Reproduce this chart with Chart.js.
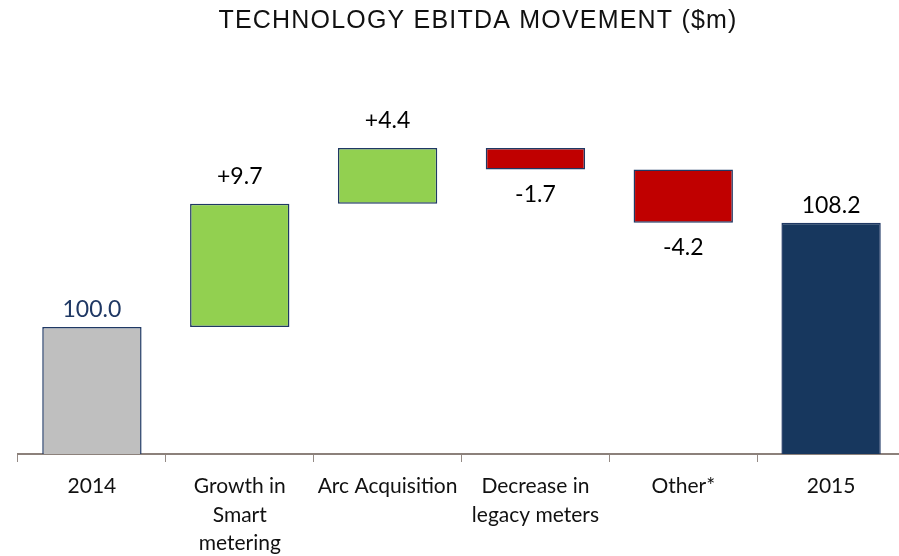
<!DOCTYPE html>
<html><head><meta charset="utf-8">
<script src="https://cdn.jsdelivr.net/npm/chart.js@4/dist/chart.umd.min.js"></script>
<style>html,body{margin:0;padding:0;overflow:hidden;background:#fff}#wrap{width:906px;height:556px}</style>
</head><body><div id="wrap"><canvas id="c" width="906" height="556"></canvas></div>
<script>
// ---- data ----
const categories = ["2014", ["Growth in", "Smart", "metering"], "Arc Acquisition", ["Decrease in", "legacy meters"], "Other*", "2015"];
const startValue = 100.0;
const movements = [9.7, 4.4, -1.7, -4.2];
const endValue = 108.2;
const yAxisRange = [90, 120];
const chartTitle = "TECHNOLOGY EBITDA MOVEMENT ($m)";

// ---- build floating bars ----
const floating = [[0, startValue]];
const kinds = ["start"];
let running = startValue;
movements.forEach(m => {
  floating.push([running, running + m]);
  kinds.push(m >= 0 ? "up" : "down");
  running += m;
});
floating.push([0, endValue]);
kinds.push("end");

const valueLabels = [startValue.toFixed(1)]
  .concat(movements.map(m => (m >= 0 ? "+" : "") + m.toFixed(1)))
  .concat([endValue.toFixed(1)]);

const fillColors = { start: "#BFBFBF", up: "#92D050", down: "#C00000", end: "#17375E" };
const labelColors = { start: "#1F3864", up: "#000000", down: "#000000", end: "#000000" };

const titlePlugin = {
  id: "titlePlugin",
  afterDraw(chart) {
    const ctx = chart.ctx;
    ctx.save();
    ctx.font = '25px "Liberation Sans", Arial, sans-serif';
    if ('letterSpacing' in ctx) ctx.letterSpacing = '1.2px';
    ctx.fillStyle = '#111111';
    ctx.textAlign = 'center';
    ctx.textBaseline = 'alphabetic';
    ctx.fillText(chartTitle, 478, 28);
    ctx.restore();
  }
};

const valueLabelPlugin = {
  id: "valueLabelPlugin",
  afterDatasetsDraw(chart) {
    const ctx = chart.ctx;
    const meta = chart.getDatasetMeta(0);
    ctx.save();
    ctx.font = '23px Lato, "Open Sans", sans-serif';
    ctx.textAlign = 'center';
    ctx.textBaseline = 'middle';
    meta.data.forEach((bar, i) => {
      const top = Math.min(bar.y, bar.base);
      const bottom = Math.max(bar.y, bar.base);
      const k = kinds[i];
      let y;
      if (k === "down") y = bottom + 25;
      else if (k === "up") y = top - 27;
      else y = top - 17;
      ctx.fillStyle = labelColors[k];
      ctx.fillText(valueLabels[i], bar.x, y);
    });
    ctx.restore();
  }
};

new Chart(document.getElementById('c'), {
  type: 'bar',
  data: {
    labels: categories,
    datasets: [{
      data: floating,
      backgroundColor: kinds.map(k => fillColors[k]),
      borderColor: '#1F3864',
      borderWidth: 1.5,
      borderSkipped: false,
      categoryPercentage: 1,
      barPercentage: 0.672,
      clip: 0
    }]
  },
  options: {
    responsive: false,
    animation: false,
    layout: { padding: { top: 73, left: 18, right: 1, bottom: 0 } },
    plugins: { legend: { display: false }, title: { display: false }, tooltip: { enabled: false } },
    scales: {
      y: { display: false, min: yAxisRange[0], max: yAxisRange[1] },
      x: {
        afterFit(scale) { scale.height = 102; },
        grid: { display: true, drawOnChartArea: false, drawTicks: true, tickLength: 8, color: '#948A85', lineWidth: 1, offset: true },
        border: { display: true, color: '#8C817B', width: 2 },
        ticks: {
          color: '#111111',
          padding: 10,
          maxRotation: 0,
          autoSkip: false,
          font: { family: 'Lato, "Open Sans", sans-serif', size: 21, lineHeight: '28.5px' }
        }
      }
    }
  },
  plugins: [titlePlugin, valueLabelPlugin]
});
</script>
</body></html>
